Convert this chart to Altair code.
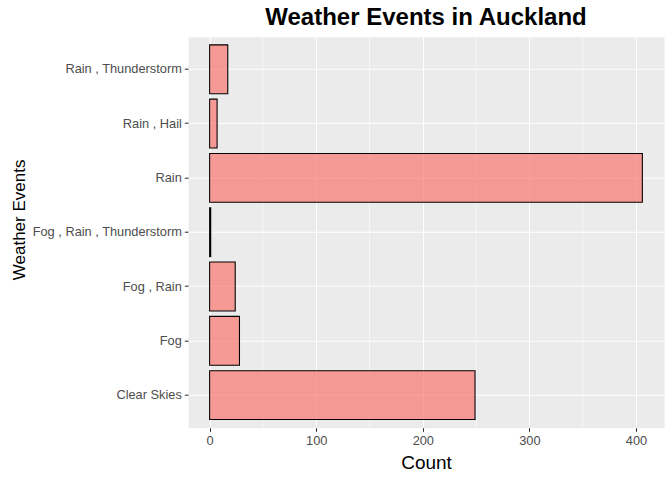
import altair as alt
import pandas as pd

categories = [
    "Rain , Thunderstorm",
    "Rain , Hail",
    "Rain",
    "Fog , Rain , Thunderstorm",
    "Fog , Rain",
    "Fog",
    "Clear Skies",
]
counts = [17, 7, 406, 1, 24, 28, 249]
major_ticks = [0, 100, 200, 300, 400]
minor_ticks = [50, 150, 250, 350]

df = pd.DataFrame({"event": categories, "count": counts})
minor_df = pd.DataFrame({"m": minor_ticks})

FONT = "Liberation Sans"
xscale = alt.Scale(domain=[-20.3, 426.3], nice=False, zero=False)

minor = alt.Chart(minor_df).mark_rule(color="white", strokeWidth=0.55).encode(
    x=alt.X("m:Q", scale=xscale)
)

bars = alt.Chart(df).mark_bar(
    fill="#F8766D", fillOpacity=0.7, stroke="black", strokeWidth=1.07
).encode(
    x=alt.X(
        "count:Q",
        scale=xscale,
        axis=alt.Axis(
            values=major_ticks,
            title="Count",
            titleFontSize=19,
            titleFontWeight="normal",
            titleColor="black",
            titleFont=FONT,
            titleBaseline="alphabetic",
            titleY=40.6,
            labelFont=FONT,
            labelFontSize=12.8,
            labelColor="#4D4D4D",
            labelPadding=3,
            tickColor="#333333",
            tickSize=3.67,
            tickWidth=1.07,
            grid=True,
            gridColor="white",
            gridWidth=1.07,
            domain=False,
        ),
    ),
    y=alt.Y(
        "event:N",
        sort=categories,
        scale=alt.Scale(paddingInner=0.1, paddingOuter=0.15),
        axis=alt.Axis(
            title="Weather Events",
            titleFontSize=17,
            titleFontWeight="normal",
            titleColor="black",
            titleFont=FONT,
            titleBaseline="alphabetic",
            titleAngle=270,
            titleAlign="center",
            titleX=-163.5,
            titleY=182.7,
            labelFont=FONT,
            labelFontSize=12.8,
            labelColor="#4D4D4D",
            labelPadding=3,
            tickColor="#333333",
            tickSize=3.67,
            tickWidth=1.07,
            grid=True,
            gridColor="white",
            gridWidth=1.07,
            domain=False,
        ),
    ),
)

chart = alt.layer(minor, bars).properties(
    width=476,
    height=391,
    autosize=alt.AutoSizeParams(type="none"),
    padding={"left": 188, "top": 36.7, "right": 8, "bottom": 52.3},
    background="white",
    title=alt.TitleParams(
        "Weather Events in Auckland",
        font=FONT,
        fontSize=24,
        fontWeight="bold",
        color="black",
        anchor="middle",
        frame="group",
        baseline="alphabetic",
        offset=10.7,
        dy=23,
    ),
).configure_view(fill="#EBEBEB", stroke="transparent")

chart.save("out.html", embed_options={"renderer": "svg", "actions": False})
